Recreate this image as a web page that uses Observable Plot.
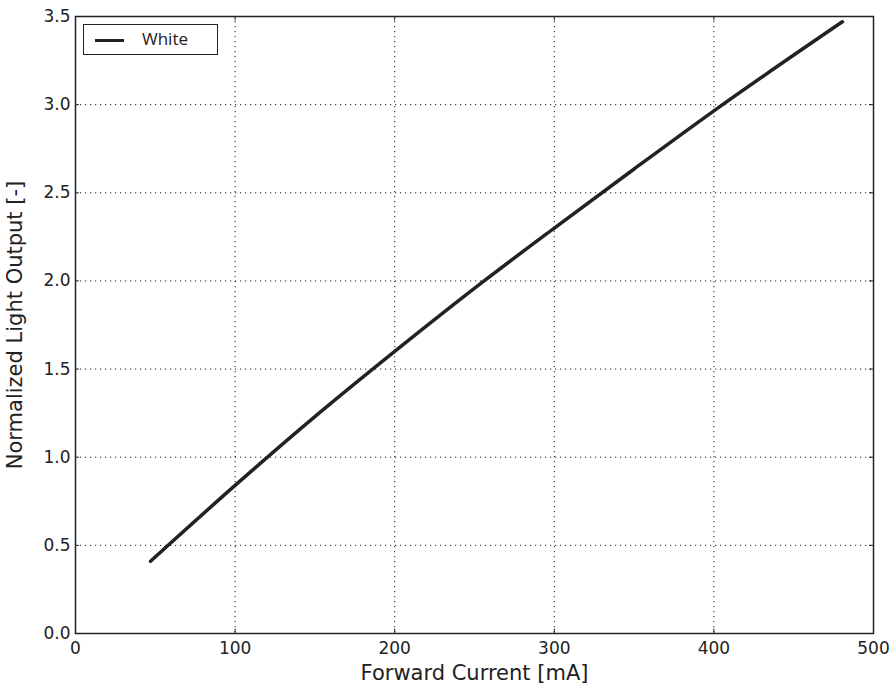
<!DOCTYPE html>
<html>
<head>
<meta charset="utf-8">
<script src="https://cdn.jsdelivr.net/npm/d3@7"></script>
<script src="https://cdn.jsdelivr.net/npm/@observablehq/plot@0.6"></script>
<style>
  html, body { margin: 0; padding: 0; background: #fff; }
  #wrap { position: relative; width: 894px; height: 688px; }
  svg { font-family: "DejaVu Sans", sans-serif; }
  g[aria-label="x-axis label"] text, g[aria-label="y-axis label"] text { font-size: 21px; }
  #legend { position: absolute; left: 83px; top: 24px; width: 133px; height: 29px;
    border: 1.5px solid #222; background: #fff; font-family: "Open Sans", sans-serif; font-size: 17px; color: #222; }
  #legend .sw { position: absolute; left: 11px; top: 14px; width: 29px; height: 3px; background: #222; }
  #legend .lb { position: absolute; left: 58px; top: 3px; line-height: 22px; }
</style>
</head>
<body>
<div id="wrap"></div>
<script>
const current = [47, 100, 150, 200, 256, 300, 350, 400, 480.5];
const lightOutput = [0.41, 0.84, 1.23, 1.6, 2.0, 2.30, 2.635, 2.965, 3.47];
const seriesName = "White";
const xTicks = [0, 100, 200, 300, 400, 500];
const yTicks = [0, 0.5, 1, 1.5, 2, 2.5, 3, 3.5];

const data = current.map((x, i) => ({x, y: lightOutput[i]}));
const ink = "#222";

const chart = Plot.plot({
  width: 894,
  height: 688,
  marginLeft: 75,
  marginRight: 21,
  marginTop: 16,
  marginBottom: 55,
  style: {fontFamily: "DejaVu Sans, sans-serif", fontSize: "17px", color: ink, background: "#fff"},
  x: {domain: [0, 500]},
  y: {domain: [0, 3.5]},
  marks: [
    Plot.gridX(xTicks.slice(1, -1), {stroke: "#000", strokeOpacity: 0.9, strokeWidth: 1, strokeDasharray: "1.2,3.8"}),
    Plot.gridY(yTicks.slice(1, -1), {stroke: "#000", strokeOpacity: 0.9, strokeWidth: 1, strokeDasharray: "1.2,3.8"}),
    // inward ticks
    Plot.ruleX(xTicks, {y1: 0, y2: 0.025, stroke: ink}),
    Plot.ruleX(xTicks, {y1: 3.475, y2: 3.5, stroke: ink}),
    Plot.ruleY(yTicks, {x1: 0, x2: 2.5, stroke: ink}),
    Plot.ruleY(yTicks, {x1: 497.5, x2: 500, stroke: ink}),
    Plot.axisX(xTicks, {tickSize: 0, tickPadding: 8, tickFormat: d3.format("d"), label: "Forward Current [mA]", labelAnchor: "center", labelArrow: "none", labelOffset: 46}),
    Plot.axisY(yTicks, {tickSize: 0, tickPadding: 5, tickFormat: d3.format(".1f"), label: "Normalized Light Output [-]", labelAnchor: "center", labelArrow: "none", labelOffset: 68}),
    Plot.line(data, {x: "x", y: "y", stroke: ink, strokeWidth: 3.5, curve: "monotone-x"}),
    Plot.frame({stroke: ink, strokeWidth: 1.5})
  ]
});
const wrap = document.getElementById("wrap");
wrap.appendChild(chart);
const leg = document.createElement("div");
leg.id = "legend";
leg.innerHTML = '<span class="sw"></span><span class="lb"></span>';
leg.querySelector(".lb").textContent = seriesName;
wrap.appendChild(leg);
</script>
</body>
</html>
